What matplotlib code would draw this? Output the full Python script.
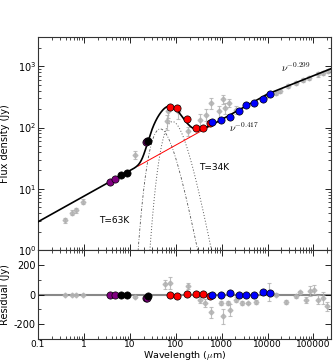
import numpy as np
import matplotlib
matplotlib.use("Agg")
import matplotlib.pyplot as plt
from matplotlib.ticker import LogLocator, NullFormatter, FixedLocator

plt.rcParams['mathtext.fontset'] = 'cm'
plt.rcParams['font.family'] = ['DejaVu Sans']
plt.rcParams['axes.unicode_minus'] = False

# ---------------- data ----------------
# coloured photometry (wavelength um, flux Jy, residual Jy)
purple_wl = [3.67, 4.8, 22.0, 23.4]
purple_flux = [12.9, 14.6, 58.0, 59.6]
purple_res = [0, 0, -23, -20]

black_wl = [6.3, 8.5, 25.0]
black_flux = [16.5, 18.3, 60.0]
black_res = [0, 0, -11]

red_wl = [74, 107, 176, 282, 393, 567]
red_flux = [215, 210, 140, 100, 97, 118]
red_res = [-5, -9, 5, 7, 2, -12]

blue_wl = [615, 950, 1514, 2343, 3445, 4966, 7787, 11220]
blue_flux = [125, 133, 149, 186, 229, 254, 295, 348]
blue_res = [-5, 0, 9, 0, -5, 0, 16, 11]

# grey archival photometry (top panel)
grey_wl = [0.386, 0.54, 0.67, 0.94, 12.9, 63, 68, 112, 185, 331, 447, 600, 880,
           1070, 1160, 1450, 2090, 9400, 15450, 18200, 27600, 42000, 58500,
           81800, 123000, 158000, 204000]
grey_flux = [3.1, 4.1, 4.5, 6.2, 36, 127, 185, 185, 87, 135, 163, 254, 185,
             288, 210, 254, 197, 325, 372, 394, 475, 526, 596, 653, 739, 788, 838]
grey_err = [0.3, 0.4, 0.4, 0.6, 5, 35, 40, 45, 15, 30, 35, 50, 40,
            50, 45, 40, 30, 25, 30, 30, 40, 40, 50, 50, 60, 60, 60]

# grey residuals (bottom panel)
gres_wl = [0.386, 0.54, 0.67, 0.94, 12.9, 59.7, 74, 185, 332, 427, 597, 951,
           1067, 1371, 1493, 2088, 2820, 3733, 5680, 10670, 15450, 25500,
           42100, 49700, 69400, 84700, 105000, 128500, 159000, 194500]
gres_val = [0, 0, 0, 0, -14, 68, 80, 57, -34, -57, -121, -57, -148, -57, -107,
            -34, -57, -57, -50, 15, 0, -50, -11, 16, -39, 23, 34, -34, -23, -80]
gres_err = [3, 3, 3, 3, 6, 30, 40, 20, 20, 30, 40, 15, 50, 15, 40, 15, 15, 10,
            15, 60, 10, 15, 10, 10, 20, 35, 30, 30, 40, 30]

# model parameters
pl_amp = 7.57          # Jy at 1 um
alpha_1 = 0.417
alpha_2 = 0.299
wl_break = 1.0e4       # um
T_warm, T_cold = 63.0, 34.0
beta = 2.0
peak_warm, peak_cold = 95.0, 125.0
red_range = (15, 560)

# ---------------- model ----------------
def powerlaw(wl):
    wl = np.asarray(wl, float)
    low = pl_amp * wl ** alpha_1
    high = pl_amp * wl_break ** alpha_1 * (wl / wl_break) ** alpha_2
    return np.where(wl < wl_break, low, high)

def mbb(wl, T, peak):
    x = 14388.0 / (np.asarray(wl, float) * T)
    g = x ** (3 + beta) / np.expm1(np.minimum(x, 700))
    xp = np.linspace(0.5, 12, 4000)
    gp = (xp ** (3 + beta) / np.expm1(xp)).max()
    return peak * g / gp

wl = np.logspace(-1, np.log10(2.4e5), 1500)
total = powerlaw(wl) + mbb(wl, T_warm, peak_warm) + mbb(wl, T_cold, peak_cold)

# ---------------- figure ----------------
fig = plt.figure(figsize=(3.34, 3.63), dpi=100)
ax = fig.add_axes([0.1138, 0.311, 0.877, 0.587])
axr = fig.add_axes([0.1138, 0.0661, 0.877, 0.2449], sharex=ax)

grey_kw = dict(fmt='D', ms=2.5, color='#b0b0b0', ecolor='#b0b0b0', elinewidth=0.8,
               capsize=1.5, capthick=0.8, mec='#b0b0b0', alpha=0.8, zorder=2)
ax.errorbar(grey_wl, grey_flux, yerr=grey_err, **grey_kw)

ax.plot(wl, mbb(wl, T_warm, peak_warm), color='#555555', ls=(0, (3, 2, 1, 2)), lw=0.6, zorder=1)
ax.plot(wl, mbb(wl, T_cold, peak_cold), color='#555555', ls=(0, (1, 2)), lw=0.7, zorder=1)
wr = np.logspace(np.log10(red_range[0]), np.log10(red_range[1]), 200)
ax.plot(wr, powerlaw(wr), color='red', lw=0.7, zorder=3)
ax.plot(wl, total, color='black', lw=1.2, zorder=4)

mk = dict(ls='none', marker='o', ms=5.2, mec='black', mew=0.5, zorder=5)
ax.plot(purple_wl, purple_flux, color='#800080', **mk)
ax.plot(black_wl, black_flux, color='black', **mk)
ax.plot(red_wl, red_flux, color='red', **mk)
ax.plot(blue_wl, blue_flux, color='blue', **mk)

ax.text(4.5, 3.0, 'T=63K', fontsize=6.5, ha='center', va='center')
ax.text(700, 22, 'T=34K', fontsize=6.5, ha='center', va='center')
ax.text(3000, 100, r'$\nu^{-0.417}$', fontsize=7.5, ha='center', va='center')
ax.text(4.2e4, 980, r'$\nu^{-0.299}$', fontsize=7.5, ha='center', va='center')

ax.set_xscale('log')
ax.set_yscale('log')
ax.set_xlim(0.1, 2.4e5)
ax.set_ylim(1, 3000)
ax.set_ylabel('Flux density (Jy)', fontsize=7)
ax.yaxis.set_label_coords(-0.095, 0.5)
ax.yaxis.set_major_locator(FixedLocator([1, 10, 100, 1000]))
ax.yaxis.set_minor_locator(LogLocator(base=10, subs=np.arange(2, 10), numticks=20))
ax.yaxis.set_minor_formatter(NullFormatter())
plt.setp(ax.get_xticklabels(), visible=False)

axr.axhline(0, color='#888888', lw=1.5, zorder=1)
axr.errorbar(gres_wl, gres_val, yerr=gres_err, **grey_kw)
axr.plot(purple_wl, purple_res, color='#800080', **mk)
axr.plot(black_wl, black_res, color='black', **mk)
axr.plot(red_wl, red_res, color='red', **mk)
axr.plot(blue_wl, blue_res, color='blue', **mk)
axr.set_ylim(-300, 300)
axr.set_yticks([-200, 0, 200])
axr.set_xlabel(r'Wavelength ($\mu$m)', fontsize=6.8)
axr.xaxis.set_label_coords(0.5, -0.118)
axr.set_ylabel('Residual (Jy)', fontsize=7)
axr.yaxis.set_label_coords(-0.095, 0.5)
axr.xaxis.set_major_locator(FixedLocator([0.1, 1, 10, 100, 1e3, 1e4, 1e5]))
axr.set_xticklabels(['0.1', '1', '10', '100', '1000', '10000', '100000'])
axr.xaxis.set_minor_locator(LogLocator(base=10, subs=np.arange(2, 10), numticks=20))
axr.xaxis.set_minor_formatter(NullFormatter())
axr.yaxis.set_minor_locator(FixedLocator([-300, -100, 100, 300]))

for a in (ax, axr):
    a.tick_params(which='both', direction='in', top=True, right=True, labelsize=7, pad=1.5)
    a.tick_params(which='major', length=4, width=0.6)
    a.tick_params(which='minor', length=2, width=0.5)
    for s in a.spines.values():
        s.set_linewidth(0.8)
        s.set_color('#333333')
axr.tick_params(axis='x', which='both', pad=0.5, labelsize=6.5)

fig.savefig('out.png', dpi=100)
